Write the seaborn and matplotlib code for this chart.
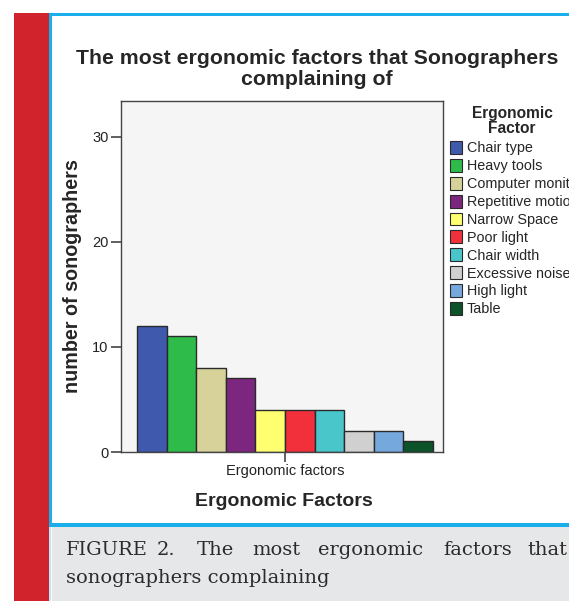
import matplotlib
matplotlib.use('Agg')
import matplotlib.pyplot as plt
from matplotlib.patches import Rectangle, Patch
import seaborn as sns
import pandas as pd

# ------------------------------------------------------------
# data
# ------------------------------------------------------------
factors = ["Chair type", "Heavy tools", "Computer monitor", "Repetitive motion",
           "Narrow Space", "Poor light", "Chair width", "Excessive noise",
           "High light", "Table"]
counts = [12, 11, 8, 7, 4, 4, 4, 2, 2, 1]
bar_colors = ["#3f59ad", "#2fbb4a", "#d6d29a", "#7d2680", "#ffff70",
              "#f2303c", "#48c6ca", "#d0d0d0", "#75a8dc", "#0c5329"]
group_label = "Ergonomic factors"
y_ticks = [0, 10, 20, 30]

df = pd.DataFrame({"group": group_label, "factor": factors, "count": counts})

sns.set_style("white")
plt.rcParams['font.family'] = ['Liberation Sans', 'DejaVu Sans']

W, H = 569, 601
fig = plt.figure(figsize=(W / 100, H / 100), dpi=100)
fig.patch.set_facecolor("white")

# page decorations (journal frame around the figure)
def px_rect(x0, y0, x1, y1, color):
    fig.patches.append(Rectangle((x0 / W, 1 - y1 / H), (x1 - x0) / W, (y1 - y0) / H,
                                 transform=fig.transFigure, color=color, zorder=0, lw=0))

px_rect(14, 13, 49, 601, "#d0232b")      # red side bar
px_rect(49, 13, 569, 16, "#1aaeea")      # blue top line
px_rect(49, 13, 52, 527, "#1aaeea")      # blue left line
px_rect(49, 523, 569, 527, "#1aaeea")    # blue line above caption
px_rect(52, 527, 569, 601, "#e6e7e9")    # grey caption box
px_rect(49, 527, 51, 601, "#bfe6f7")

# ------------------------------------------------------------
# the bar chart
# ------------------------------------------------------------
ax = fig.add_axes([121 / W, 1 - 452 / H, (443 - 121) / W, (452 - 101) / H])
sns.barplot(data=df, x="group", y="count", hue="factor", hue_order=factors,
            palette=dict(zip(factors, bar_colors)), width=0.92,
            edgecolor="#2a2a2a", linewidth=1.0, saturation=1, legend=False, ax=ax)
ax.set_facecolor("#f5f5f5")
ax.set_xlim(-0.51, 0.491)
ax.set_ylim(0, 33.4)
ax.set_yticks(y_ticks)
ax.set_xlabel("")
ax.set_ylabel("")
for s in ax.spines.values():
    s.set_color("#444444")
    s.set_linewidth(1.0)
ax.tick_params(axis="both", direction="out", length=7, width=1.2, color="#444444",
               labelsize=10.5, labelcolor="#222222", pad=2, left=True, bottom=True)

fig.text(317 / W, 1 - 69 / H,
         "The most ergonomic factors that Sonographers\ncomplaining of",
         ha="center", va="center", fontsize=15.3, fontweight="bold", linespacing=1.15)
fig.text(73 / W, 1 - 276 / H, "number of sonographers", rotation=90,
         ha="center", va="center", fontsize=14.2, fontweight="bold")
fig.text(284 / W, 1 - 502 / H, "Ergonomic Factors",
         ha="center", va="center", fontsize=14, fontweight="bold")

# legend (the long labels run off the right edge, as in the original)
fig.text(512 / W, 1 - 121 / H, "Ergonomic\nFactor", ha="center", va="center",
         fontsize=11.2, fontweight="bold", linespacing=0.95)
handles = [Patch(facecolor=c, edgecolor="#2a2a2a", lw=0.8) for c in bar_colors]
fig.legend(handles, factors, loc="upper left", bbox_to_anchor=(450 / W, 1 - 141 / H),
           frameon=False, fontsize=10.4, handlelength=0.85, handleheight=1.0,
           handletextpad=0.3, labelspacing=0.24, borderpad=0, borderaxespad=0)

# caption, first line justified word by word
cap_font = dict(fontsize=14, family="DejaVu Serif", color="#2b2b2b", va="center")
line1 = ["FIGURE", "2.", "The", "most", "ergonomic", "factors", "that"]
x_words = [66, 157, 197, 252, 318, 443, 527]
for w, xw in zip(line1, x_words):
    fig.text(xw / W, 1 - 550 / H, w, ha="left", **cap_font)
fig.text(66 / W, 1 - 578 / H, "sonographers complaining", ha="left", **cap_font)

fig.savefig("out.png", dpi=100)
